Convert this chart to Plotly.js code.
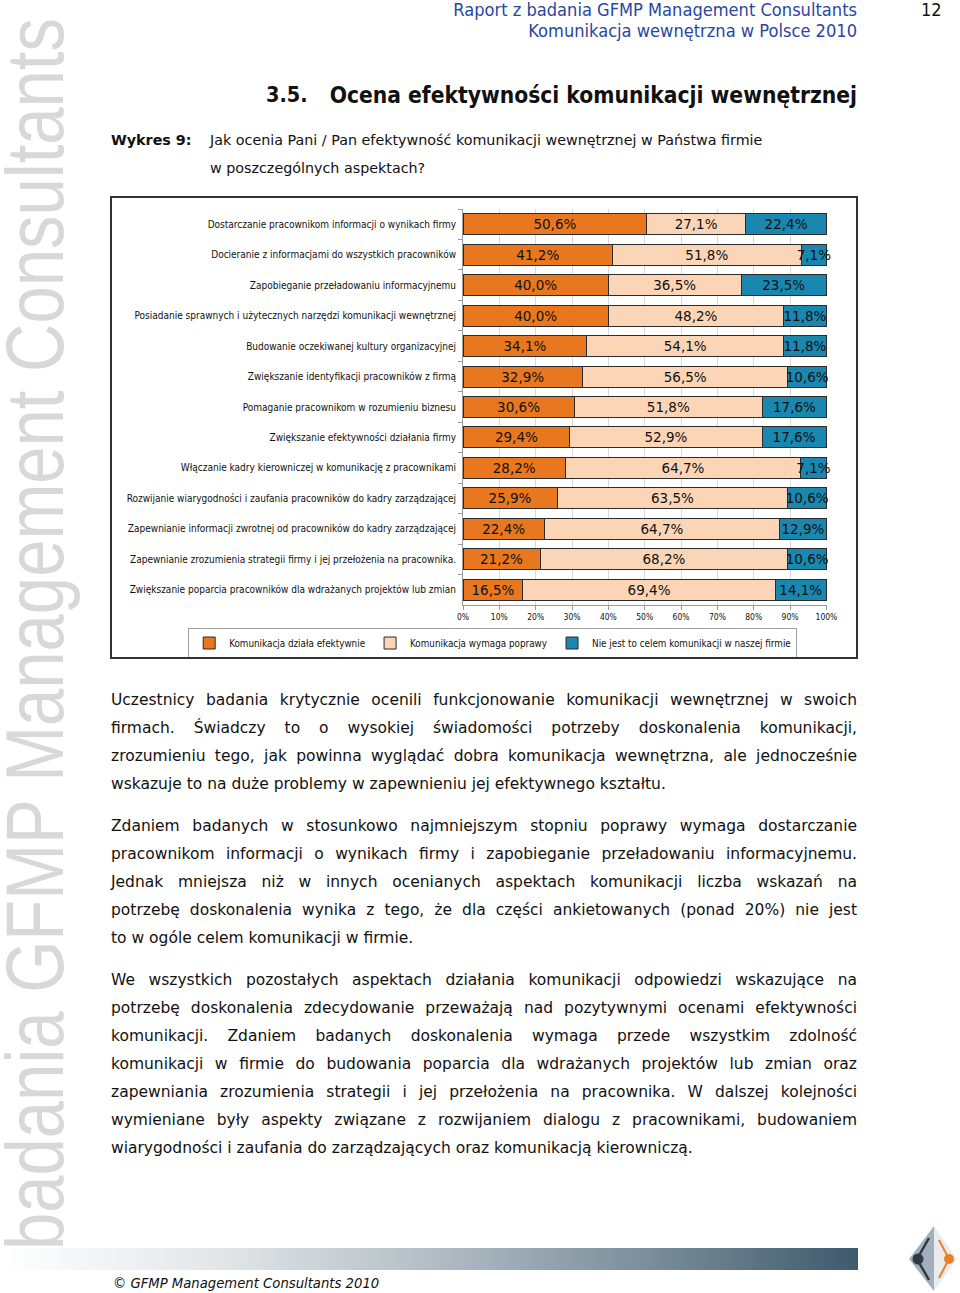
<!DOCTYPE html>
<html>
<head>
<meta charset="utf-8">
<script src="https://cdn.plot.ly/plotly-3.0.1.min.js"></script>
<style>
  html, body { margin:0; padding:0; background:#fff; }
  body { width:960px; height:1293px; position:relative; overflow:hidden; font-family:"DejaVu Sans", Verdana, sans-serif; color:#111; }
  .abs { position:absolute; white-space:nowrap; }
  .hdr { right:103px; font-family:"DejaVu Sans Condensed","DejaVu Sans",sans-serif; font-size:18.1px; color:#2847a0; line-height:22px; }
  .body-line { position:absolute; left:111px; width:746px; white-space:nowrap; font-size:15.5px; line-height:28px; text-align:justify; text-align-last:justify; color:#111; }
  .body-line.last { text-align:left; text-align-last:left; }
  #wm { position:absolute; left:0; top:0; font-family:"Liberation Sans Narrow","Liberation Sans",Arial,sans-serif; font-size:82px; color:#d8d8d8; white-space:nowrap; transform-origin:0 0; }
  #chartbox { position:absolute; left:110px; top:196px; width:744px; height:459px; border:2px solid #333; }
  #chart { width:744px; height:459px; }
  #footbar { position:absolute; left:0; top:1248px; width:858px; height:22px; background:linear-gradient(to right, #ffffff 0%, #e3e7ea 25%, #b2bec6 50%, #7b8f9c 75%, #3e5a6c 100%); }
</style>
</head>
<body>
<div id="wm">badania GFMP Management Consultants</div>

<div class="abs hdr" style="top:-1px;">Raport z badania GFMP Management Consultants</div>
<div class="abs hdr" style="top:20px;">Komunikacja wewnętrzna w Polsce 2010</div>
<div class="abs" style="left:921px; top:-1px; font-family:'DejaVu Sans Condensed','DejaVu Sans',sans-serif; font-size:18px; line-height:22px; color:#111;">12</div>

<div class="abs" style="left:266px; top:81px; font-family:'DejaVu Sans Condensed','DejaVu Sans',sans-serif; font-weight:bold; font-size:21.5px; line-height:28px; color:#111;">3.5.</div>
<div class="abs" style="right:103px; top:81px; font-family:'DejaVu Sans Condensed','DejaVu Sans',sans-serif; font-weight:bold; font-size:22.6px; line-height:28px; color:#111;">Ocena efektywności komunikacji wewnętrznej</div>

<div class="abs" style="left:111px; top:130px; font-family:'DejaVu Sans','Verdana',sans-serif; font-weight:bold; font-size:14.3px; line-height:20px;">Wykres 9:</div>
<div class="abs" style="left:210px; top:130px; font-family:'DejaVu Sans','Verdana',sans-serif; font-size:14.3px; line-height:20px;">Jak ocenia Pani / Pan efektywność komunikacji wewnętrznej w Państwa firmie</div>
<div class="abs" style="left:210px; top:158px; font-family:'DejaVu Sans','Verdana',sans-serif; font-size:14.3px; line-height:20px;">w poszczególnych aspektach?</div>

<div id="chartbox"><div id="chart"></div></div>

<div id="bodytext"></div>

<div id="footbar"></div>
<div class="abs" style="left:113px; top:1273px; font-family:'DejaVu Sans Condensed','DejaVu Sans',sans-serif; font-style:italic; font-size:14.7px; line-height:20px; color:#111;">© GFMP Management Consultants 2010</div>

<svg style="position:absolute; left:905px; top:1224px;" width="55" height="69" viewBox="0 0 55 69">
  <polygon points="29,2 29,67 4,35" fill="#a3b0bb"/>
  <polygon points="29,2 29,67 52,35" fill="#e9ecef"/>
  <line x1="12" y1="35" x2="24" y2="14" stroke="#2c3a47" stroke-width="2.5"/>
  <line x1="12" y1="35" x2="24" y2="56" stroke="#2c3a47" stroke-width="2.5"/>
  <circle cx="13" cy="35" r="5.5" fill="#2c3a47"/>
  <line x1="44" y1="35" x2="34" y2="16" stroke="#e8802a" stroke-width="2"/>
  <line x1="44" y1="35" x2="34" y2="54" stroke="#e8802a" stroke-width="2"/>
  <circle cx="44" cy="35" r="5" fill="#e8802a"/>
</svg>

<script>
// ---- data ----
var categories = [
  "Dostarczanie pracownikom informacji o wynikach firmy",
  "Docieranie z informacjami do wszystkich pracowników",
  "Zapobieganie przeładowaniu informacyjnemu",
  "Posiadanie sprawnych i użytecznych narzędzi komunikacji wewnętrznej",
  "Budowanie oczekiwanej kultury organizacyjnej",
  "Zwiększanie identyfikacji pracowników z firmą",
  "Pomaganie pracownikom w rozumieniu biznesu",
  "Zwiększanie efektywności działania firmy",
  "Włączanie kadry kierowniczej w komunikację z pracownikami",
  "Rozwijanie wiarygodności i zaufania pracowników do kadry zarządzającej",
  "Zapewnianie informacji zwrotnej od pracowników do kadry zarządzającej",
  "Zapewnianie zrozumienia strategii firmy i jej przełożenia na pracownika.",
  "Zwiększanie poparcia pracowników dla wdrażanych projektów lub zmian"
];
var effective = [50.6, 41.2, 40.0, 40.0, 34.1, 32.9, 30.6, 29.4, 28.2, 25.9, 22.4, 21.2, 16.5];
var needsImprovement = [27.1, 51.8, 36.5, 48.2, 54.1, 56.5, 51.8, 52.9, 64.7, 63.5, 64.7, 68.2, 69.4];
var notAGoal = [22.4, 7.1, 23.5, 11.8, 11.8, 10.6, 17.6, 17.6, 7.1, 10.6, 12.9, 10.6, 14.1];
var seriesNames = [
  "Komunikacja działa efektywnie",
  "Komunikacja wymaga poprawy",
  "Nie jest to celem komunikacji w naszej firmie"
];
var xTickVals = [0,10,20,30,40,50,60,70,80,90,100];
var xTickText = ["0%","10%","20%","30%","40%","50%","60%","70%","80%","90%","100%"];

var bodyParagraphs = [
  ["Uczestnicy badania krytycznie ocenili funkcjonowanie komunikacji wewnętrznej w swoich",
   "firmach. Świadczy to o wysokiej świadomości potrzeby doskonalenia komunikacji,",
   "zrozumieniu tego, jak powinna wyglądać dobra komunikacja wewnętrzna, ale jednocześnie",
   "wskazuje to na duże problemy w zapewnieniu jej efektywnego kształtu."],
  ["Zdaniem badanych w stosunkowo najmniejszym stopniu poprawy wymaga dostarczanie",
   "pracownikom informacji o wynikach firmy i zapobieganie przeładowaniu informacyjnemu.",
   "Jednak mniejsza niż w innych ocenianych aspektach komunikacji liczba wskazań na",
   "potrzebę doskonalenia wynika z tego, że dla części ankietowanych (ponad 20%) nie jest",
   "to w ogóle celem komunikacji w firmie."],
  ["We wszystkich pozostałych aspektach działania komunikacji odpowiedzi wskazujące na",
   "potrzebę doskonalenia zdecydowanie przeważają nad pozytywnymi ocenami efektywności",
   "komunikacji. Zdaniem badanych doskonalenia wymaga przede wszystkim zdolność",
   "komunikacji w firmie do budowania poparcia dla wdrażanych projektów lub zmian oraz",
   "zapewniania zrozumienia strategii i jej przełożenia na pracownika. W dalszej kolejności",
   "wymieniane były aspekty związane z rozwijaniem dialogu z pracownikami, budowaniem",
   "wiarygodności i zaufania do zarządzających oraz komunikacją kierowniczą."]
];

// ---- body text ----
(function(){
  var host = document.getElementById('bodytext');
  var starts = [700, 826, 980];
  bodyParagraphs.forEach(function(p, pi){
    p.forEach(function(line, li){
      var d = document.createElement('div');
      d.className = 'body-line' + (li === p.length - 1 ? ' last' : '');
      d.style.top = (starts[pi] + li * 28 - 14) + 'px';
      d.textContent = line;
      host.appendChild(d);
    });
  });
  // watermark: rotate to read bottom-to-top
  var wm = document.getElementById('wm');
  var w = wm.getBoundingClientRect().width;
  var target = 1232;
  var s = target / w;
  wm.style.transform = 'translate(-12px, 1250px) rotate(-90deg) scale(' + s + ',1)';
})();

// ---- chart ----
function fmt(v){ return v.toFixed(1).replace('.', ',') + '%'; }
var colors = ['#e8771f', '#fbd5b5', '#1a87b0'];
var series = [effective, needsImprovement, notAGoal];
var traces = series.map(function(vals, i){
  return {
    type: 'bar',
    orientation: 'h',
    name: seriesNames[i],
    y: categories,
    x: vals,
    text: vals.map(fmt),
    textposition: 'inside',
    insidetextanchor: 'middle',
    constraintext: 'none',
    textfont: { family: 'DejaVu Sans, Verdana, sans-serif', size: 13.5, color: '#111' },
    marker: { color: colors[i], line: { color: '#2b2b2b', width: 1 } },
    hoverinfo: 'none',
    cliponaxis: false
  };
});

var layout = {
  width: 744, height: 459,
  margin: { l: 351, r: 29, t: 11, b: 52, autoexpand: false },
  barmode: 'stack',
  bargap: 0.31,
  paper_bgcolor: '#fff',
  plot_bgcolor: '#fff',
  showlegend: true,
  legend: {
    orientation: 'h',
    xref: 'paper', yref: 'paper',
    x: -0.755, xanchor: 'left',
    y: -0.096, yanchor: 'middle',
    bordercolor: '#a0a0a0', borderwidth: 1,
    font: { family: 'DejaVu Sans Condensed, DejaVu Sans, sans-serif', size: 9.8, color: '#111' },
    itemwidth: 30,
    tracegroupgap: 0,
    traceorder: 'normal'
  },
  xaxis: {
    range: [0, 100.15],
    tickvals: xTickVals,
    ticktext: xTickText,
    showgrid: true,
    gridcolor: '#d9d9d9',
    gridwidth: 1,
    zeroline: false,
    showline: true,
    linecolor: '#9a9a9a',
    ticks: 'outside',
    ticklen: 4,
    tickcolor: '#9a9a9a',
    tickfont: { family: 'DejaVu Sans Condensed, DejaVu Sans, sans-serif', size: 8.5, color: '#111' },
    fixedrange: true
  },
  yaxis: {
    type: 'category',
    autorange: 'reversed',
    showline: true,
    linecolor: '#9a9a9a',
    ticks: 'outside',
    tickson: 'boundaries',
    ticklen: 4,
    tickcolor: '#9a9a9a',
    ticklabelstandoff: 4,
    showgrid: false,
    tickfont: { family: 'DejaVu Sans Condensed, DejaVu Sans, sans-serif', size: 10, color: '#111' },
    automargin: false,
    fixedrange: true
  }
};

Plotly.newPlot('chart', traces, layout, { staticPlot: true, displayModeBar: false });
</script>
</body>
</html>
